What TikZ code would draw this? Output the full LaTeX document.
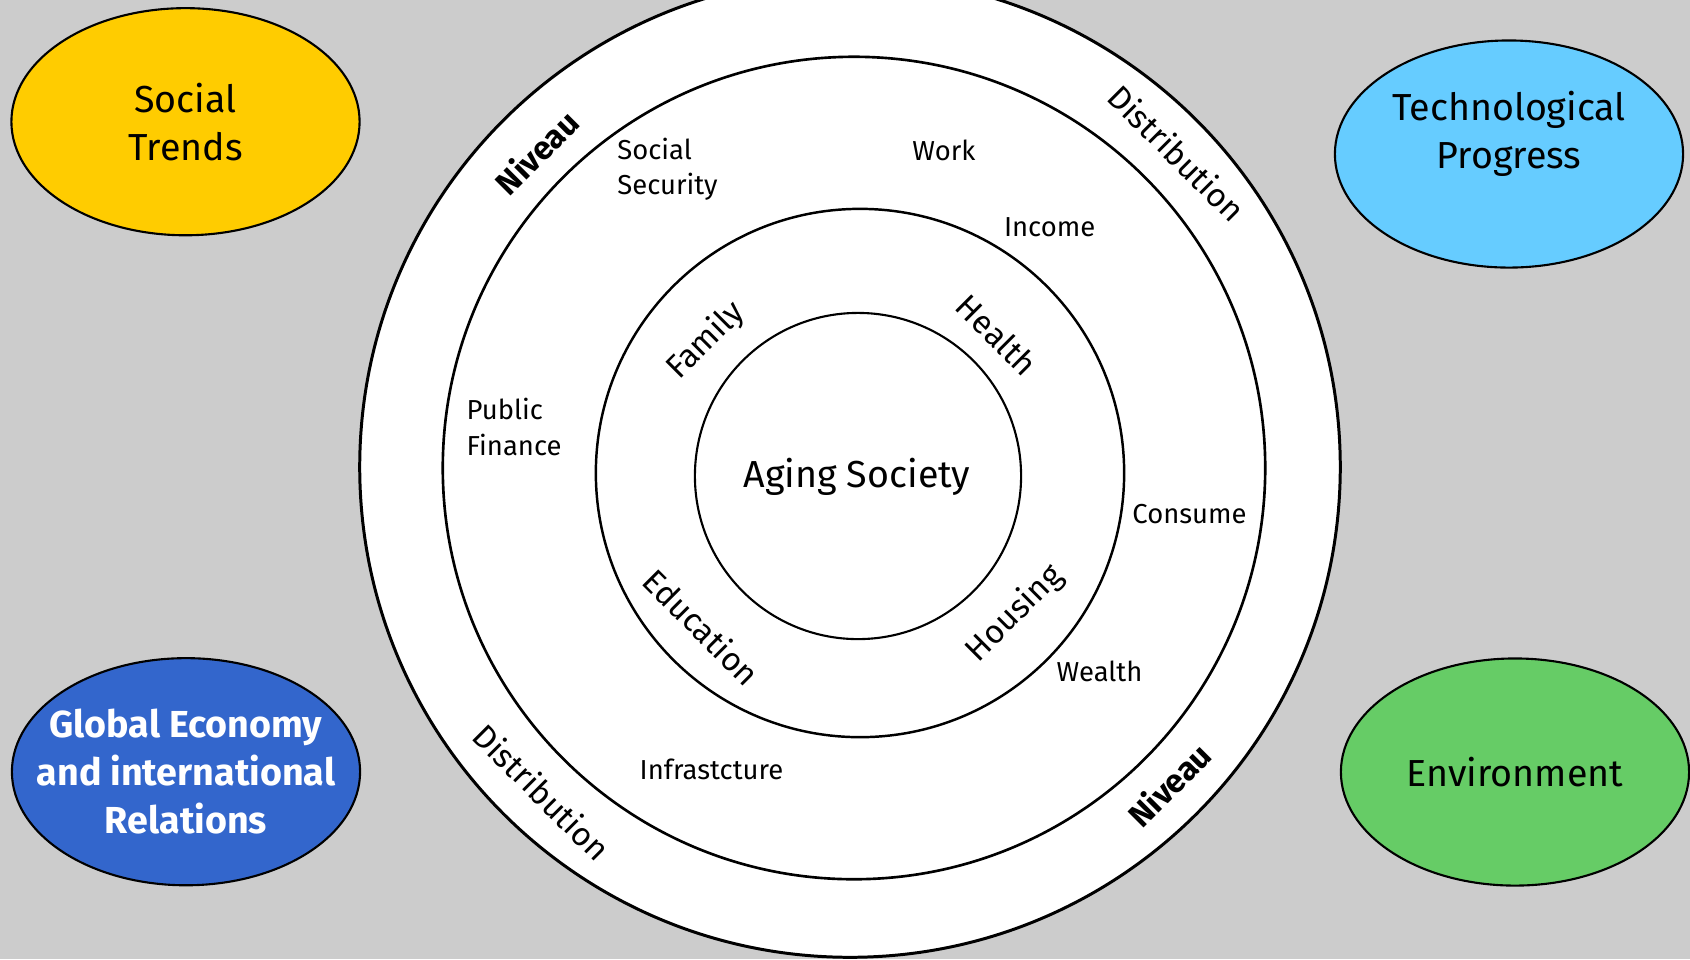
\documentclass[tikz,border=0pt]{standalone}
\usepackage{fontspec}
\setmainfont{Fira Sans}
\usepackage{tikz}
\usetikzlibrary{shapes.geometric}
\definecolor{backGray}{HTML}{CCCCCC}
\definecolor{trendY}{HTML}{FFCC00}
\definecolor{trendC}{HTML}{66CCFF}
\definecolor{trendB}{HTML}{3366CC}
\definecolor{trendG}{HTML}{66CC66}
\newcommand{\bigtext}{\fontsize{10.7}{13.6}\selectfont}
\newcommand{\midtext}{\fontsize{9.3}{11}\selectfont}
\newcommand{\smalltext}{\fontsize{7.8}{10}\selectfont}
\tikzstyle{ring}=[draw=black, fill=white, line width=0.7pt]
\tikzstyle{bubble}=[ellipse, draw=black, line width=0.6pt, minimum width=3.48cm, minimum height=2.27cm, inner sep=0pt]
\tikzstyle{bubbletext}=[inner sep=0pt, align=center, font=\bigtext]
\tikzstyle{topic}=[inner sep=0pt, font=\midtext]
\tikzstyle{field}=[inner sep=0pt, align=left, font=\smalltext]

\begin{document}
\begin{tikzpicture}[x=0.01cm, y=-0.01cm]
			\clip (0,0) rectangle (1690,959);
			\fill[backGray] (0,0) rectangle (1690,959);

			% Rings round the aging society
			\draw[ring, line width=0.85pt] (850,467) circle[radius=4.90cm];
			\draw[ring, line width=0.75pt] (854,468) circle[radius=4.11cm];
			\draw[ring] (860,473) circle[radius=2.64cm];
			\draw[ring, line width=0.6pt] (858,476) circle[radius=1.63cm];

			% Outer forces
			\node[bubble, fill=trendY] (social) at (185.5,121.7) {};
			\node[bubble, fill=trendC] (techno) at (1509,154) {};
			\node[bubble, fill=trendB] (global) at (186,771.7) {};
			\node[bubble, fill=trendG] (environ) at (1515,772) {};

			\node[bubbletext] (socialT) at (social) {Social\\Trends};
			\node[bubbletext, yshift=0.2cm] (technoT) at (techno) {Technological\\Progress};
			\node[bubbletext, text=white, font=\bigtext\bfseries] (globalT) at (global) {Global Economy\\and international\\Relations};
			\node[bubbletext] (environT) at (environ) {Environment};

			% Centre
			\node[bubbletext, anchor=base] (aging) at (857,487) {Aging Society};

			% First ring
			\node[topic, rotate=45] (family) at (706,341) {Family};
			\node[topic, rotate=-45] (health) at (997,335) {Health};
			\node[topic, rotate=-45] (education) at (702,627) {Education};
			\node[topic, rotate=45] (housing) at (1014.7,613.8) {Housing};

			% Second ring
			\node[field, anchor=west] (security) at (616.7,169) {Social\\Security};
			\node[field, anchor=base west] (work) at (911.7,160) {Work};
			\node[field, anchor=base west] (income) at (1003.3,236) {Income};
			\node[field, anchor=west] (finance) at (466,427) {Public\\Finance};
			\node[field, anchor=base west] (consume) at (1131.7,523) {Consume};
			\node[field, anchor=base west] (wealth) at (1056,681.7) {Wealth};
			\node[field, anchor=base west] (infra) at (639,779.3) {Infrastcture};

			% Outer band
			\node[topic, rotate=45, font=\midtext\bfseries] (niveauA) at (536.7,152) {Niveau};
			\node[topic, rotate=-45] (distribA) at (1177,153) {Distribution};
			\node[topic, rotate=-45] (distribB) at (542,792) {Distribution};
			\node[topic, rotate=45, font=\midtext\bfseries] (niveauB) at (1169,784.6) {Niveau};
		\end{tikzpicture}
\end{document}
